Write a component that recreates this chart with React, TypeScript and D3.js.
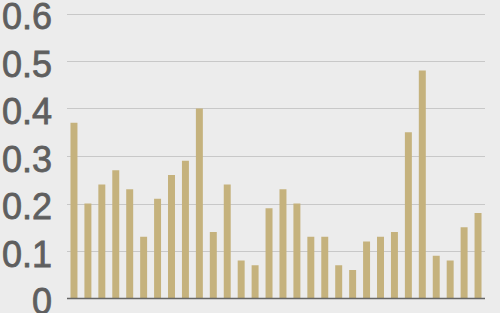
import React from "react";
import * as d3 from "d3";

const categories: string[] = Array.from({ length: 30 }, (_, i) => `C${i + 1}`);
const values: number[] = [
  0.37, 0.2, 0.24, 0.27, 0.23, 0.13, 0.21, 0.26, 0.29, 0.4,
  0.14, 0.24, 0.08, 0.07, 0.19, 0.23, 0.2, 0.13, 0.13, 0.07,
  0.06, 0.12, 0.13, 0.14, 0.35, 0.48, 0.09, 0.08, 0.15, 0.18,
];
const yTicks: number[] = [0, 0.1, 0.2, 0.3, 0.4, 0.5, 0.6];
const yTickLabels: string[] = ["0", "0.1", "0.2", "0.3", "0.4", "0.5", "0.6"];

const W = 500;
const H = 313;
const left = 67;
const right = 485;
const top = 13.5;
const bottom = 298.5;

export default function App() {
  const x = d3.scaleBand<string>().domain(categories).range([left, right]).paddingInner(0.5).paddingOuter(0.25);
  const y = d3.scaleLinear().domain([0, 0.6]).range([bottom, top]);
  return (
    <svg
      width={W}
      height={H}
      style={{ position: "fixed", left: 0, top: 0, display: "block", background: "#ececec" }}
    >
      <rect x={0} y={0} width={W} height={H} fill="#ececec" />
      {yTicks.slice(1).map((t) => (
        <line key={t} x1={left} x2={right} y1={Math.round(y(t)) + 0.5} y2={Math.round(y(t)) + 0.5} stroke="#c8c8c8" strokeWidth={1} />
      ))}
      {values.map((v, i) => (
        <rect key={i} x={x(categories[i])} y={y(v)} width={x.bandwidth()} height={bottom - y(v)} fill="#c5b27d" />
      ))}
      <line x1={left} x2={right} y1={bottom} y2={bottom} stroke="#666666" strokeWidth={1.5} />
      {yTicks.map((t, i) => (
        <text
          key={t}
          x={52}
          y={y(t) + 15.5}
          textAnchor="end"
          fontFamily="Liberation Sans, Arial, sans-serif"
          fontWeight="normal"
          fontSize={36}
          stroke="#5f5f5f"
          strokeWidth={0.8}
          fill="#5f5f5f"
        >
          {yTickLabels[i]}
        </text>
      ))}
    </svg>
  );
}
